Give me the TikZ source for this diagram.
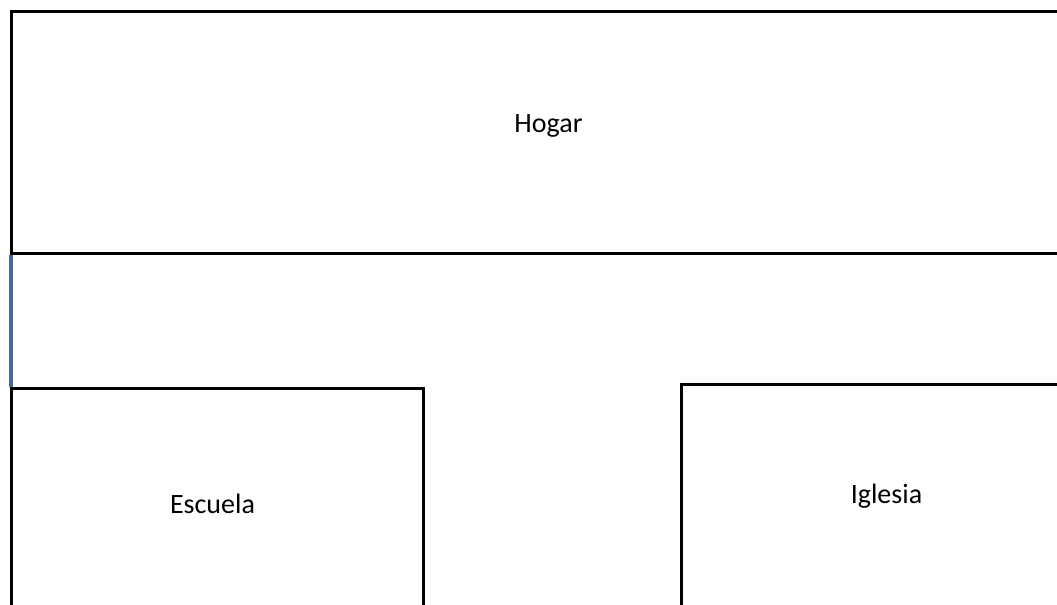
\documentclass[tikz,border=0pt]{standalone}
\usepackage{fontspec}
\setmainfont{Carlito}
\usetikzlibrary{positioning}
\definecolor{enlace}{RGB}{70,106,160}
\tikzset{
  lugar-caja/.style={draw=black, line width=2.25pt, minimum width=#1, inner sep=0pt, outer sep=0pt},
  lugar-texto/.style={anchor=base, font=\fontsize{21pt}{25pt}\selectfont, inner sep=0pt},
  lugar-enlace/.style={draw=enlace, line width=2.4pt}
}
\begin{document}
\begin{tikzpicture}[x=0.75pt, y=-0.75pt]
  \useasboundingbox (0,0) rectangle (1057,604);
  \clip (0,0) rectangle (1057,604);

  % Hogar (top, runs past the right edge)
  \node[lugar-caja=805.5pt, minimum height=181.5pt] (hogar) at (548,132.5) {};
  \node[lugar-texto] (hogarTxt) at (548.5,132) {Hogar};

  % Escuela (bottom left, runs past the bottom edge)
  \node[lugar-caja=309pt, minimum height=181.5pt] (escuela) at (217,509) {};
  \node[lugar-texto] (escuelaTxt) at (212.5,513) {Escuela};

  % Iglesia (bottom right)
  \node[lugar-caja=309pt, minimum height=181.5pt] (iglesia) at (887,505) {};
  \node[lugar-texto] (iglesiaTxt) at (886.5,503) {Iglesia};

  % link between Hogar and Escuela
  \draw[lugar-enlace] ([yshift=-1.1pt]hogar.south west) -- ([yshift=1.1pt]escuela.north west);
\end{tikzpicture}
\end{document}
